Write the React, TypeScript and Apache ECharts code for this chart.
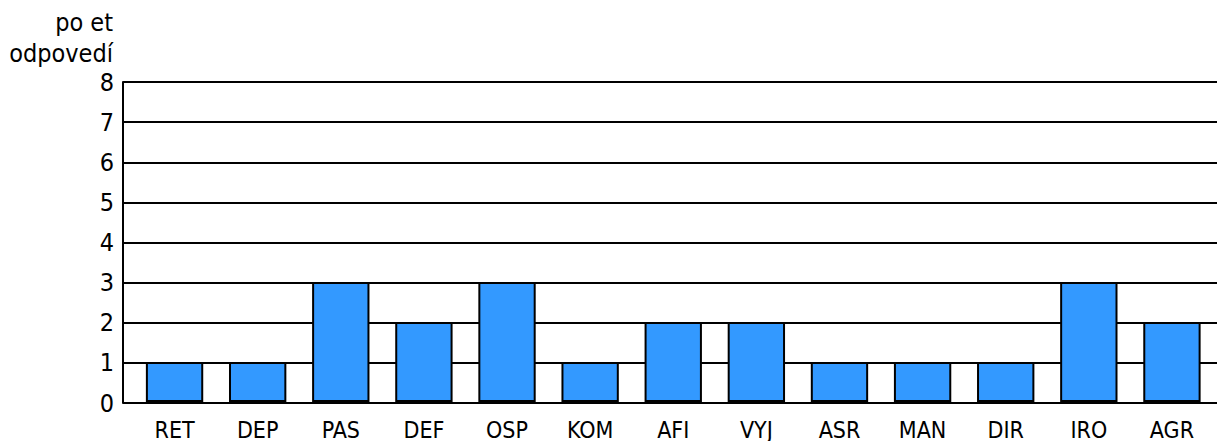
import React, { useEffect, useRef } from "react";
import * as echarts from "echarts";

const categories = ["RET", "DEP", "PAS", "DEF", "OSP", "KOM", "AFI", "VYJ", "ASR", "MAN", "DIR", "IRO", "AGR"];
const values = [1, 1, 3, 2, 3, 1, 2, 2, 1, 1, 1, 3, 2];
const yMax = 8;
const axisTitleLines = ["po et", "odpovedí"];

const FONT = "'DejaVu Sans Condensed', 'Liberation Sans Narrow', 'Liberation Sans', sans-serif";

export default function App() {
  const ref = useRef<HTMLDivElement>(null);
  useEffect(() => {
    if (!ref.current) return;
    const chart = echarts.init(ref.current, null, { renderer: "svg" });
    chart.setOption({
      animation: false,
      backgroundColor: "#ffffff",
      grid: [
        { left: 123, right: 0, top: 82, bottom: 38 },
        { left: 133, right: 3.5, top: 82, bottom: 38 },
      ],
      xAxis: [
        { type: "category", gridIndex: 0, data: categories, show: false },
        {
          type: "category",
          gridIndex: 1,
          data: categories,
          axisLine: { show: false },
          axisTick: { show: false },
          axisLabel: { color: "#000", fontFamily: FONT, fontSize: 23, margin: 16 },
        },
      ],
      yAxis: [
        {
          type: "value",
          gridIndex: 0,
          min: 0,
          max: yMax,
          interval: 1,
          axisLine: { show: true, lineStyle: { color: "#000", width: 2 } },
          axisTick: { show: false },
          splitLine: { show: true, lineStyle: { color: "#000", width: 2 } },
          axisLabel: { color: "#000", fontFamily: FONT, fontSize: 25, margin: 9 },
        },
        { type: "value", gridIndex: 1, min: 0, max: yMax, interval: 1, show: false, splitLine: { show: false } },
      ],
      series: [
        {
          type: "bar",
          xAxisIndex: 1,
          yAxisIndex: 1,
          data: values,
          barWidth: "69%",
          itemStyle: { color: "#3399FF", borderColor: "#000", borderWidth: 2 },
        },
      ],
      graphic: axisTitleLines.map((t, i) => ({
        type: "text",
        right: 1217 - 113,
        top: 10 + i * 31,
        style: { text: t, fill: "#000", font: `25px ${FONT}`, textAlign: "right" },
      })),
    });
    return () => chart.dispose();
  }, []);
  return <div ref={ref} style={{ position: "fixed", left: 0, top: 0, width: 1217, height: 441 }} />;
}
